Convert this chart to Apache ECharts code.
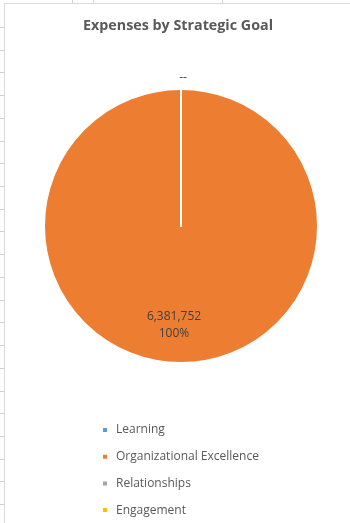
<!DOCTYPE html>
<html>
<head>
<meta charset="utf-8">
<script src="https://cdn.jsdelivr.net/npm/echarts@6/dist/echarts.min.js"></script>
<style>
  html, body { margin: 0; padding: 0; background: #ffffff; }
  #rowlines { position: absolute; left: 0; top: 0; width: 4px; height: 523px; }
  #rowlines div { position: absolute; left: 0; width: 4px; height: 1px; background: #cfcfcf; }
  #collines { position: absolute; left: 0; top: 0; width: 350px; height: 3px; }
  #collines div { position: absolute; top: 0; width: 1px; height: 3px; background: #d4d4d4; }
  #chart {
    position: absolute; left: 4px; top: 3px; width: 346px; height: 520px;
    background: #ffffff;
    border-left: 1px solid #d9d9d9; border-top: 1px solid #d9d9d9;
  }
</style>
</head>
<body>
<div id="rowlines"></div>
<div id="collines"></div>
<div id="chart"></div>
<script>
  // Expenses by strategic goal
  const goals = ['Learning', 'Organizational Excellence', 'Relationships', 'Engagement'];
  const expenses = [0, 6381752, 0, 0];
  const goalColors = ['#5B9BD5', '#ED7D31', '#A5A5A5', '#FFC000'];

  // Worksheet grid peeking out around the chart object
  const rowBox = document.getElementById('rowlines');
  for (let k = 0; k < 22; k++) {
    const d = document.createElement('div');
    d.style.top = Math.round(27 + k * 22.72) + 'px';
    rowBox.appendChild(d);
  }
  const colBox = document.getElementById('collines');
  [72, 93, 222].forEach(x => {
    const d = document.createElement('div');
    d.style.left = x + 'px';
    colBox.appendChild(d);
  });

  const total = expenses.reduce((a, b) => a + b, 0);
  const fmt = v => v.toLocaleString('en-US');

  // Only one dash label for the zero-valued goals (they all share the same spot)
  const firstZero = expenses.indexOf(0);

  const pieData = goals.map((name, i) => ({
    name: name,
    value: expenses[i],
    itemStyle: { color: goalColors[i] },
    label: expenses[i] === 0
      ? { show: i === firstZero, position: 'outside' }
      : { show: true, position: 'inside' },
    labelLine: { show: false }
  }));

  const chart = echarts.init(document.getElementById('chart'), null, { renderer: 'canvas' });
  chart.setOption({
    animation: false,
    title: {
      text: 'Expenses by Strategic Goal',
      left: 'center',
      top: 15,
      padding: 0,
      textStyle: { fontFamily: 'Open Sans', fontSize: 14.3, fontWeight: 'bold', color: '#595959' }
    },
    legend: {
      orient: 'vertical',
      left: 96,
      top: 420,
      padding: 0,
      icon: 'rect',
      itemWidth: 6,
      itemHeight: 6,
      itemGap: 14.7,
      data: goals,
      textStyle: { fontFamily: 'Open Sans', fontSize: 12, color: '#595959', padding: [0, 0, 0, 3] }
    },
    series: [{
      type: 'pie',
      center: [176, 222],
      radius: 137,
      startAngle: 90,
      clockwise: true,
      avoidLabelOverlap: false,
      itemStyle: { borderColor: '#ffffff', borderWidth: 2 },
      label: {
        fontFamily: 'Open Sans',
        fontSize: 12,
        color: '#404040',
        lineHeight: 17,
        formatter: p => p.value === 0
          ? '--'
          : fmt(p.value) + '\n' + Math.round(p.value / total * 100) + '%'
      },
      labelLayout: p => {
        if (expenses[p.dataIndex] === 0) {
          return { x: p.rect.x + 3, y: p.rect.y - 10, align: 'center', verticalAlign: 'middle' };
        }
        return { dx: -7, dy: 28 };
      },
      emphasis: { disabled: true },
      data: pieData
    }]
  });
</script>
</body>
</html>
